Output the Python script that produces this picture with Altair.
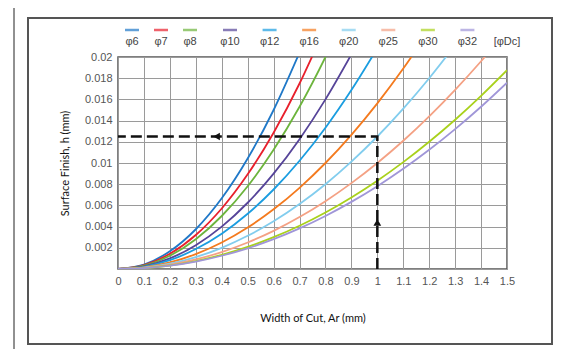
import altair as alt
import pandas as pd

# ---- data ----
AR = [0.0, 0.1, 0.2, 0.3, 0.4, 0.5, 0.6, 0.7, 0.8, 0.9, 1.0, 1.1, 1.2, 1.3, 1.4, 1.5]

SERIES = ["φ6", "φ7", "φ8", "φ10", "φ12", "φ16", "φ20", "φ25", "φ30", "φ32"]
COLORS = ["#1f78c8", "#e8202c", "#6cb43c", "#564499", "#1a9de0",
          "#f47a1e", "#82cdee", "#f4a184", "#a9d11c", "#a096d8"]

H_6 = [0, 0.00042, 0.00167, 0.00375, 0.00667, 0.01042, 0.015, 0.02042]
H_7 = [0, 0.00036, 0.00143, 0.00321, 0.00571, 0.00893, 0.01286, 0.0175, 0.02286]
H_8 = [0, 0.00031, 0.00125, 0.00281, 0.005, 0.00781, 0.01125, 0.01531, 0.02, 0.02531]
H_10 = [0, 0.00025, 0.001, 0.00225, 0.004, 0.00625, 0.009, 0.01225, 0.016, 0.02025]
H_12 = [0, 0.00021, 0.00083, 0.00188, 0.00333, 0.00521, 0.0075, 0.01021, 0.01333,
        0.01688, 0.02083]
H_16 = [0, 0.00016, 0.00063, 0.00141, 0.0025, 0.00391, 0.00563, 0.00766, 0.01,
        0.01266, 0.01563, 0.01891, 0.0225]
H_20 = [0, 0.00013, 0.0005, 0.00113, 0.002, 0.00313, 0.0045, 0.00613, 0.008,
        0.01013, 0.0125, 0.01513, 0.018, 0.02113]
H_25 = [0, 0.0001, 0.0004, 0.0009, 0.0016, 0.0025, 0.0036, 0.0049, 0.0064,
        0.0081, 0.01, 0.0121, 0.0144, 0.0169, 0.0196, 0.0225]
H_30 = [0, 0.00008, 0.00033, 0.00075, 0.00133, 0.00208, 0.003, 0.00408, 0.00533,
        0.00675, 0.00833, 0.01008, 0.012, 0.01408, 0.01633, 0.01875]
H_32 = [0, 0.00008, 0.00031, 0.0007, 0.00125, 0.00195, 0.00281, 0.00383, 0.005,
        0.00633, 0.00781, 0.00945, 0.01125, 0.0132, 0.01531, 0.01758]
VALUES = [H_6, H_7, H_8, H_10, H_12, H_16, H_20, H_25, H_30, H_32]

X_TICKS = [0, 0.1, 0.2, 0.3, 0.4, 0.5, 0.6, 0.7, 0.8, 0.9, 1, 1.1, 1.2, 1.3, 1.4, 1.5]
Y_TICKS = [0, 0.002, 0.004, 0.006, 0.008, 0.01, 0.012, 0.014, 0.016, 0.018, 0.02]

DASH_X = [1.0, 1.0, 0.0]
DASH_Y = [0.0, 0.0125, 0.0125]
ARROW_X = [0.38, 1.0]
ARROW_Y = [0.0125, 0.0044]
ARROW_DIR = ["left", "up"]

LEGEND_A = ["φ6", "φ7", "φ8"]
LEGEND_B = ["φ10", "φ12", "φ16", "φ20", "φ25", "φ30", "φ32", "[φDc]"]

# ---- tables ----
rows = []
for name, vals in zip(SERIES, VALUES):
    for i, h in enumerate(vals):
        rows.append({"ar": AR[i], "h": h, "name": name})
df = pd.DataFrame(rows)
df_dash = pd.DataFrame({"ar": DASH_X, "h": DASH_Y, "k": list(range(len(DASH_X)))})
df_arrow = pd.DataFrame({"ar": ARROW_X, "h": ARROW_Y, "dir": ARROW_DIR})
df_la = pd.DataFrame({"name": LEGEND_A})
df_lb = pd.DataFrame({"name": LEGEND_B})
df_one = pd.DataFrame({"a": [0]})

FONT = "Liberation Sans"
TITLE_FONT = "Lato"

xs = alt.Scale(domain=[0, 1.5], nice=False, zero=False)
ys = alt.Scale(domain=[0, 0.02], nice=False)
color = alt.Color("name:N", scale=alt.Scale(domain=SERIES, range=COLORS), legend=None)

x_axis = alt.Axis(values=X_TICKS, labelExpr="format(datum.value, '~g')", ticks=False,
                  domain=False, labelPadding=6, title="Width of Cut, Ar (mm)",
                  titlePadding=26, labelFont=FONT, labelFontSize=11, labelColor="#555",
                  labelOverlap=False, labelFlush=False,
                  titleFont=TITLE_FONT, titleFontSize=11, titleFontWeight="normal",
                  titleColor="#111", gridColor="#9a9a9a", gridWidth=1)
y_axis = alt.Axis(values=Y_TICKS,
                  labelExpr="datum.value == 0 ? '' : format(datum.value, '~g')",
                  ticks=False, domain=False, labelPadding=6, labelOverlap=False,
                  labelFlush=False,
                  title="Surface Finish, h (mm)", titlePadding=14, labelFont=FONT,
                  labelFontSize=11, labelColor="#555", titleFont=TITLE_FONT,
                  titleFontSize=11, titleFontWeight="normal", titleColor="#111",
                  gridColor="#9a9a9a", gridWidth=1)

X = alt.X("ar:Q", scale=xs, axis=x_axis)
Y = alt.Y("h:Q", scale=ys, axis=y_axis)

lines = alt.Chart(df).mark_line(strokeWidth=1.8, interpolate="monotone", clip=True).encode(
    x=X, y=Y, color=color, detail="name:N")

dash = alt.Chart(df_dash).mark_line(color="#111", strokeWidth=2.5,
                                    strokeDash=[11, 5]).encode(x=X, y=Y, order="k:Q")

arrows = alt.Chart(df_arrow).mark_point(filled=True, color="#111", opacity=1,
                                        size=60).encode(
    x=X, y=Y,
    shape=alt.Shape("dir:N", scale=alt.Scale(domain=["left", "up"],
                                             range=["triangle-left", "triangle-up"]),
                    legend=None))

frame = alt.Chart(df_one).mark_rect(fillOpacity=0, stroke="#555", strokeWidth=2).encode(
    x=alt.value(-90), x2=alt.value(434), y=alt.value(-39), y2=alt.value(287))
outer = alt.Chart(df_one).mark_rule(color="#222", strokeWidth=1).encode(
    x=alt.value(-104), y=alt.value(-49), y2=alt.value(292))

main = alt.layer(frame, outer, lines, dash, arrows)


def legend_group(data, domain, rng):
    xl = alt.X("name:N", scale=alt.Scale(type="point", domain=domain, range=rng,
                                         padding=0), axis=None)
    ticks = alt.Chart(data).mark_tick(orient="horizontal", size=14, thickness=2.5).encode(
        x=xl, y=alt.value(-27), color=color).transform_filter(
        alt.FieldOneOfPredicate(field="name", oneOf=SERIES))
    text = alt.Chart(data).mark_text(font=FONT, fontSize=11, color="#444",
                                     baseline="middle").encode(
        x=xl, y=alt.value(-15), text="name:N")
    return alt.layer(ticks, text)


leg_a = legend_group(df_la, LEGEND_A, [14, 72])
leg_b = legend_group(df_lb, LEGEND_B, [112, 389])

chart = alt.layer(main, leg_a, leg_b).resolve_scale(x="independent").properties(
    width=389, height=212,
    autosize=alt.AutoSizeParams(type="none"),
    padding={"left": 110, "top": 49, "right": 46, "bottom": 80},
    background="white",
).configure_view(stroke="#555", strokeWidth=1.5)

chart.save("out.html", embed_options={"renderer": "svg", "actions": False})
